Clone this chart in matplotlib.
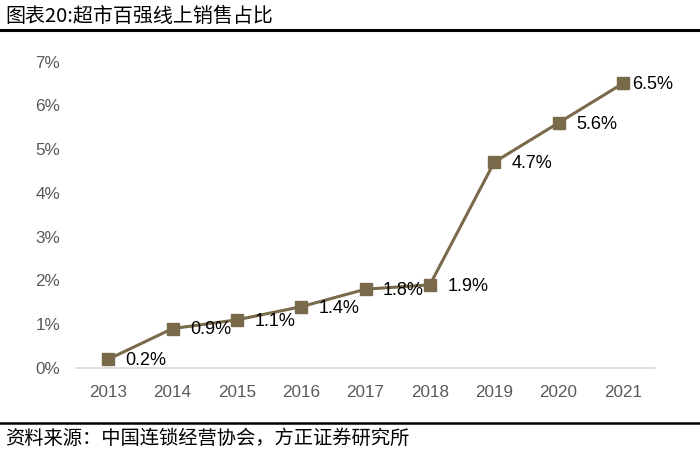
import matplotlib
matplotlib.use("Agg")
import matplotlib.pyplot as plt
from matplotlib.lines import Line2D

years = ["2013", "2014", "2015", "2016", "2017", "2018", "2019", "2020", "2021"]
share = [0.2, 0.9, 1.1, 1.4, 1.8, 1.9, 4.7, 5.6, 6.5]
value_labels = ["0.2%", "0.9%", "1.1%", "1.4%", "1.8%", "1.9%", "4.7%", "5.6%", "6.5%"]
y_ticks = [0, 1, 2, 3, 4, 5, 6, 7]
y_tick_labels = ["0%", "1%", "2%", "3%", "4%", "5%", "6%", "7%"]
title = "图表20:超市百强线上销售占比"
source = "资料来源：中国连锁经营协会，方正证券研究所"

plt.rcParams['font.family'] = ['Liberation Sans', 'Noto Sans CJK SC', 'DejaVu Sans']

fig = plt.figure(figsize=(7.0, 4.51), dpi=100)
ax = fig.add_axes([0.1086, 0.184, 0.8272, 0.6796])

color = "#7A6A4C"
x = list(range(len(years)))
ax.plot(x, share, color=color, linewidth=2.2, marker="s", markersize=8,
        markerfacecolor=color, markeredgecolor=color, zorder=3)

for i, (xi, yi, lab) in enumerate(zip(x, share, value_labels)):
    dx = 7.0 if i == len(x) - 1 else 12.5
    ax.annotate(lab, (xi, yi), xytext=(dx, -1), textcoords="offset points",
                ha="left", va="center", fontsize=13, color="#000000", zorder=4)

ax.set_xlim(-0.5, len(years) - 0.5)
ax.set_ylim(0, 7)
ax.set_xticks(x)
ax.set_xticklabels(years)
ax.set_yticks(y_ticks)
ax.set_yticklabels(y_tick_labels)
ax.tick_params(axis="both", length=0, labelsize=12.3, labelcolor="#595959")
ax.tick_params(axis="x", pad=12)
ax.tick_params(axis="y", pad=11.5)
for s in ["top", "right", "left"]:
    ax.spines[s].set_visible(False)
ax.spines["bottom"].set_color("#D9D9D9")
ax.spines["bottom"].set_linewidth(1.2)

fig.text(5 / 700, 1 - 16 / 451, title, ha="left", va="center", fontsize=14.4,
         family=['Noto Sans CJK SC', 'DejaVu Sans'], color="#000000")
fig.text(5 / 700, 1 - 438 / 451, source, ha="left", va="center", fontsize=13.9,
         family=['Noto Sans CJK SC', 'DejaVu Sans'], color="#000000")

fig.add_artist(Line2D([0, 1], [1 - 30 / 451] * 2, color="black", linewidth=2.2,
                      transform=fig.transFigure))
fig.add_artist(Line2D([0, 1], [1 - 423 / 451] * 2, color="black", linewidth=1.8,
                      transform=fig.transFigure))

fig.savefig("out.png", dpi=100)
